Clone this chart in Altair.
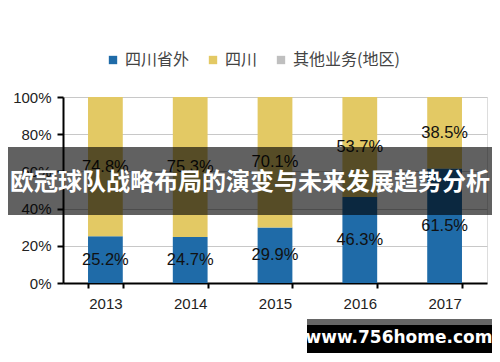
import altair as alt
import pandas as pd

years = ["2013", "2014", "2015", "2016", "2017"]
outside = [25.2, 24.7, 29.9, 46.3, 61.5]
sichuan = [74.8, 75.3, 70.1, 53.7, 38.5]
other = [0, 0, 0, 0, 0]
series = ["四川省外", "四川", "其他业务(地区)"]
colors = ["#1F6BA8", "#E3C964", "#BFBFBF"]
yticks = [0, 20, 40, 60, 80, 100]
banner_text = "欧冠球队战略布局的演变与未来发展趋势分析"
site_text = "www.756home.com"

rows = []
for i, y in enumerate(years):
    start = 0.0
    for s, vals in zip(series, [outside, sichuan, other]):
        v = vals[i]
        rows.append({"year": y, "series": s, "value": v,
                     "start": start, "end": start + v,
                     "mid": start + v / 2,
                     "label": f"{v:.1f}%" if v > 0 else ""})
        start += v
df = pd.DataFrame(rows)

W, H = 424, 186
font = "Liberation Sans"

xaxis = alt.Axis(labelAngle=0, labelFontSize=15, labelColor="#222",
                 labelFont=font, domainColor="#000", domainWidth=2,
                 tickColor="#000", tickWidth=2, tickSize=5, tickBand="extent",
                 labelPadding=8, grid=False, title=None)
yaxis = alt.Axis(values=yticks, labelExpr="datum.value + '%'",
                 labelFontSize=15, labelColor="#222", labelFont=font,
                 labelOverlap=False, labelBound=False, labelFlush=False,
                 domainColor="#000", domainWidth=2, tickColor="#000",
                 tickWidth=2, tickSize=6, labelPadding=6, title=None,
                 grid=True, gridColor="#C8C8C8", gridWidth=1)
xscale = alt.Scale(paddingInner=0.59, paddingOuter=0.295)
yscale = alt.Scale(domain=[0, 100], nice=False)

bars = alt.Chart(df).mark_bar().encode(
    x=alt.X("year:N", sort=years, scale=xscale, axis=xaxis),
    y=alt.Y("start:Q", scale=yscale, axis=yaxis),
    y2="end:Q",
    color=alt.Color("series:N", sort=series,
                    scale=alt.Scale(domain=series, range=colors),
                    legend=alt.Legend(title=None, orient="none", direction="horizontal",
                                      legendX=42, legendY=-45, symbolType="square",
                                      symbolSize=70, labelFontSize=16, labelFont="Noto Sans CJK SC",
                                      labelColor="#444", columnPadding=15, symbolStrokeWidth=0)),
)

labels = alt.Chart(df[df["label"] != ""]).mark_text(
    fontSize=16.5, font=font, color="#111").encode(
    x=alt.X("year:N", sort=years, scale=xscale, axis=xaxis),
    y=alt.Y("mid:Q", scale=yscale, axis=yaxis),
    text="label:N")

banner = alt.Chart(pd.DataFrame({"t": [banner_text]})).mark_rect(
    color="#000", opacity=0.62).encode(
    x=alt.value(-55), x2=alt.value(429), y=alt.value(50), y2=alt.value(118))
banner_t = alt.Chart(pd.DataFrame({"t": [banner_text]})).mark_text(
    fontSize=24, fontWeight="bold", color="#fff", font="Noto Sans CJK SC").encode(
    x=alt.value(187), y=alt.value(86), text="t:N")

site_strip = alt.Chart(pd.DataFrame({"t": [site_text]})).mark_rect(
    color="#666").encode(x=alt.value(244), x2=alt.value(429),
                         y=alt.value(222), y2=alt.value(228))
site_box = alt.Chart(pd.DataFrame({"t": [site_text]})).mark_rect(
    color="#000").encode(x=alt.value(244), x2=alt.value(429),
                         y=alt.value(228), y2=alt.value(256))
site_t = alt.Chart(pd.DataFrame({"t": [site_text]})).mark_text(
    fontSize=17, fontWeight="bold", color="#fff", font="DejaVu Sans").encode(
    x=alt.value(336), y=alt.value(241), text="t:N")

chart = alt.layer(bars, labels, banner, banner_t, site_strip, site_box, site_t).properties(
    width=W, height=H,
    autosize=alt.AutoSizeParams(type="none"),
    padding={"left": 55, "top": 89, "right": 5, "bottom": 71},
).configure_view(stroke=None).configure(background="#ffffff")

chart.save("out.html", embed_options={"renderer": "svg", "actions": False})
